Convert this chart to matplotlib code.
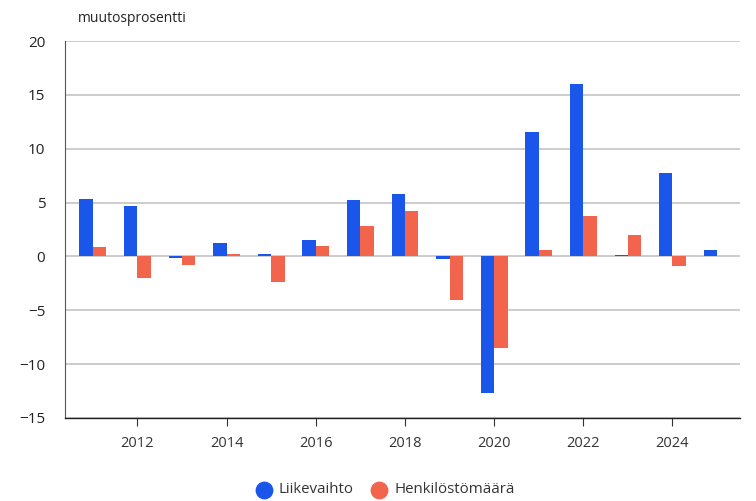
import matplotlib.pyplot as plt
import numpy as np

plt.rcParams['font.family'] = ['Open Sans', 'DejaVu Sans']

years = list(range(2011, 2026))
liikevaihto = [5.37, 4.65, -0.19, 1.28, 0.25, 1.56, 5.28, 5.78, -0.28, -12.7,
               11.55, 15.99, 0.12, 7.75, 0.63]
henkilosto = [0.84, -2.03, -0.8, 0.25, -2.34, 0.97, 2.78, 4.25, -4.08, -8.48,
              0.63, 3.72, 1.97, -0.9, np.nan]
xticks = [2012, 2014, 2016, 2018, 2020, 2022, 2024]
yticks = [-15, -10, -5, 0, 5, 10, 15, 20]

blue = '#1a56ea'
red = '#f2654c'

fig = plt.figure(figsize=(7.56, 5.01), dpi=100)
ax = fig.add_axes([0.0856, 0.166, 0.893, 0.752])

x = np.array(years)
w = 0.3
ax.bar(x - w / 2, liikevaihto, width=w, color=blue, zorder=3)
ax.bar(x + w / 2, henkilosto, width=w, color=red, zorder=3)

ax.set_xlim(2010.37, 2025.51)
ax.set_ylim(-15, 20)
ax.set_yticks(yticks)
ax.set_yticklabels([str(v).replace('-', '\u2212') for v in yticks])
ax.set_xticks(xticks)
ax.yaxis.grid(True, color='#cccccc', linewidth=1.4, zorder=0)
ax.set_axisbelow(True)

for s in ['top', 'right']:
    ax.spines[s].set_visible(False)
ax.spines['left'].set_color('#555555')
ax.spines['bottom'].set_color('#222222')
ax.spines['bottom'].set_linewidth(1.0)
ax.tick_params(axis='y', length=0, pad=14, labelsize=11, labelcolor='#222222')
ax.tick_params(axis='x', length=6, width=0.8, color='#333333', pad=7,
               labelsize=10.5, labelcolor='#333333')

fig.text(0.175, 0.963, 'muutosprosentti', ha='center', va='center',
         fontsize=10, color='#222222')

# legenda alareunaan
h1 = ax.scatter([], [], s=140, color=blue, marker='o')
h2 = ax.scatter([], [], s=140, color=red, marker='o')
fig.legend([h1, h2], ['Liikevaihto', 'Henkilöstömäärä'], loc='center',
           bbox_to_anchor=(0.505, 0.022), ncol=2, frameon=False, fontsize=10.8,
           handletextpad=0.0, columnspacing=0.7, labelcolor='#333333')

plt.savefig('out.png', dpi=100)
